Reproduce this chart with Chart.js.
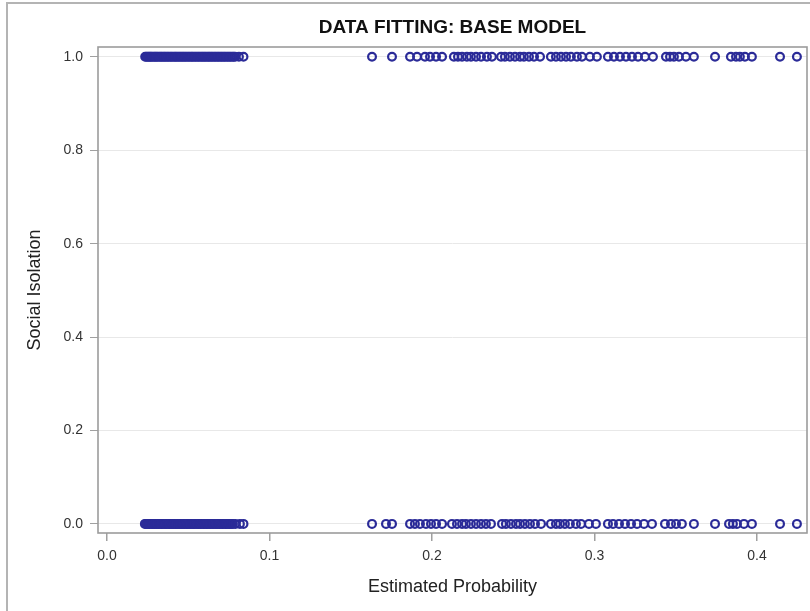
<!DOCTYPE html>
<html>
<head>
<meta charset="utf-8">
<script src="https://cdn.jsdelivr.net/npm/chart.js@4/dist/chart.umd.min.js"></script>
<style>
  html, body { margin: 0; padding: 0; background: #fff; overflow: hidden; }
  #wrap { position: relative; width: 810px; height: 611px; }
  #frame { position: absolute; left: 6px; top: 2px; width: 900px; height: 900px;
           border-left: 2px solid #b4b4b4; border-top: 2px solid #b4b4b4; pointer-events: none; }
  canvas { position: absolute; left: 0; top: 0; }
</style>
</head>
<body>
<div id="wrap">
  <canvas id="c" width="810" height="611"></canvas>
  <div id="frame"></div>
</div>
<script>
const chartTitle = 'DATA FITTING: BASE MODEL';
// Estimated probability for observations with Social Isolation = 1
const probIsolated = [
  0.0235,0.0242,0.0251,0.0258,0.0266,0.0272,0.0281,0.0290,0.0297,0.0305,0.0313,0.0322,
  0.0331,0.0338,0.0347,0.0355,0.0363,0.0372,0.0380,0.0389,0.0397,0.0406,0.0415,0.0423,
  0.0431,0.0440,0.0449,0.0457,0.0466,0.0474,0.0483,0.0492,0.0501,0.0510,0.0519,0.0527,
  0.0536,0.0545,0.0554,0.0563,0.0572,0.0581,0.0590,0.0598,0.0607,0.0616,0.0625,0.0633,
  0.0642,0.0651,0.0660,0.0669,0.0678,0.0687,0.0696,0.0705,0.0714,0.0723,0.0732,0.0742,
  0.0751,0.0760,0.0770,0.0779,0.0788,0.0812,0.0840,
  0.1631,0.1754,0.1865,0.1908,0.1957,0.1988,0.2025,0.2062,0.2135,0.2160,0.2185,0.2215,
  0.2240,0.2271,0.2302,0.2338,0.2369,0.2425,0.2449,0.2480,0.2511,0.2542,0.2566,0.2597,
  0.2628,0.2665,0.2732,0.2763,0.2794,0.2825,0.2855,0.2892,0.2923,0.2972,0.3015,0.3083,
  0.3120,0.3157,0.3194,0.3231,0.3268,0.3311,0.3360,0.3440,0.3465,0.3489,0.3520,0.3563,
  0.3612,0.3742,0.3840,0.3871,0.3895,0.3926,0.3969,0.4142,0.4246
];
// Estimated probability for observations with Social Isolation = 0
const probNotIsolated = [
  0.0233,0.0240,0.0248,0.0256,0.0263,0.0271,0.0279,0.0287,0.0295,0.0303,0.0311,0.0320,
  0.0328,0.0336,0.0344,0.0353,0.0361,0.0369,0.0378,0.0386,0.0394,0.0403,0.0411,0.0420,
  0.0428,0.0437,0.0445,0.0454,0.0462,0.0471,0.0479,0.0488,0.0497,0.0505,0.0514,0.0523,
  0.0531,0.0540,0.0549,0.0558,0.0566,0.0575,0.0584,0.0593,0.0602,0.0611,0.0620,0.0629,
  0.0638,0.0647,0.0656,0.0665,0.0674,0.0683,0.0692,0.0701,0.0710,0.0719,0.0728,0.0737,
  0.0746,0.0755,0.0764,0.0775,0.0790,0.0818,0.0840,
  0.1631,0.1717,0.1754,0.1865,0.1895,0.1926,0.1963,0.1994,0.2025,0.2062,0.2123,0.2154,
  0.2185,0.2209,0.2240,0.2271,0.2302,0.2332,0.2363,0.2431,0.2455,0.2486,0.2517,0.2542,
  0.2572,0.2603,0.2634,0.2671,0.2732,0.2763,0.2788,0.2818,0.2849,0.2886,0.2917,0.2966,
  0.3009,0.3083,0.3114,0.3151,0.3188,0.3225,0.3262,0.3305,0.3354,0.3434,0.3471,0.3502,
  0.3538,0.3612,0.3742,0.3828,0.3852,0.3877,0.3920,0.3969,0.4142,0.4246
];
const xTicks = [0.0, 0.1, 0.2, 0.3, 0.4];
const yTicks = [0.0, 0.2, 0.4, 0.6, 0.8, 1.0];

const markColor = '#2b2b98';
const fontFam = '"Liberation Sans", Arial, sans-serif';

const plotDecor = {
  id: 'plotDecor',
  afterDraw(chart) {
    const {ctx, chartArea: a} = chart;
    ctx.save();
    ctx.strokeStyle = '#9c9c9c';
    ctx.lineWidth = 1.6;
    ctx.strokeRect(a.left, a.top, a.right - a.left, a.bottom - a.top);
    // title centred over the plot area
    ctx.fillStyle = '#111';
    ctx.font = 'bold 19px ' + fontFam;
    ctx.textAlign = 'center';
    ctx.textBaseline = 'middle';
    ctx.fillText(chartTitle, (a.left + a.right) / 2, 28);
    ctx.restore();
  }
};

new Chart(document.getElementById('c'), {
  type: 'scatter',
  data: {
    datasets: [
      { label: 'Social Isolation = 1', data: probIsolated.map(p => ({x: p, y: 1})) },
      { label: 'Social Isolation = 0', data: probNotIsolated.map(p => ({x: p, y: 0})) }
    ].map(d => Object.assign(d, {
      pointStyle: 'circle', pointRadius: 3.9, pointBorderWidth: 2.2,
      borderColor: markColor, backgroundColor: 'rgba(0,0,0,0)',
      pointHoverRadius: 3.9
    }))
  },
  options: {
    responsive: false,
    animation: false,
    layout: { autoPadding: false, padding: { left: 0, right: 3, top: 47, bottom: 0 } },
    plugins: {
      legend: { display: false },
      tooltip: { enabled: false },
      title: { display: false }
    },
    scales: {
      x: {
        type: 'linear',
        min: -0.00554, max: 0.4308,
        afterFit(s) { s.height = 78; s.paddingLeft = 0; s.paddingRight = 0; },
        afterBuildTicks(s) { s.ticks = xTicks.map(v => ({value: v})); },
        border: { display: false },
        grid: { drawOnChartArea: false, drawTicks: true, tickLength: 8, tickColor: '#a0a0a0', lineWidth: 1.5 },
        ticks: {
          padding: 7, color: '#333', font: { family: fontFam, size: 14 },
          callback: v => Number(v).toFixed(1)
        },
        title: {
          display: true, text: 'Estimated Probability', color: '#222',
          font: { family: fontFam, size: 18 }, padding: { top: 0, bottom: 13 }
        }
      },
      y: {
        type: 'linear',
        min: -0.0195, max: 1.021,
        afterFit(s) { s.width = 98; s.paddingTop = 0; s.paddingBottom = 0; },
        afterBuildTicks(s) { s.ticks = yTicks.map(v => ({value: v})); },
        border: { display: false },
        grid: { drawOnChartArea: true, color: '#e8e8e8', lineWidth: 1, drawTicks: true, tickLength: 8, tickColor: '#a0a0a0' },
        ticks: {
          padding: 7, color: '#333', font: { family: fontFam, size: 14 },
          callback: v => Number(v).toFixed(1)
        },
        title: {
          display: true, text: 'Social Isolation', color: '#222',
          font: { family: fontFam, size: 18 }, padding: { top: 24, bottom: 0 }
        }
      }
    }
  },
  plugins: [plotDecor]
});
</script>
</body>
</html>
